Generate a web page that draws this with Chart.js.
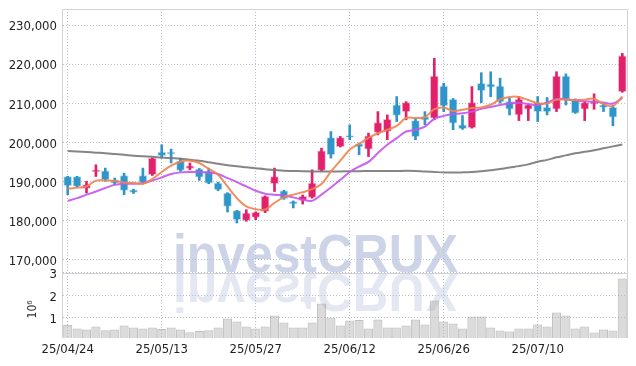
<!DOCTYPE html>
<html>
<head>
<meta charset="utf-8">
<script src="https://cdn.jsdelivr.net/npm/chart.js@4.4.1/dist/chart.umd.min.js"></script>
<style>
  html, body { margin: 0; padding: 0; background: #fff; }
  #chart { display: block; }
</style>
</head>
<body>
<canvas id="chart" width="636" height="366"></canvas>
<script>
// trading days shown on the x axis
const dates = [
  '25/04/24', '25/04/25', '25/04/28', '25/04/29', '25/04/30', '25/05/02', '25/05/07', '25/05/08', '25/05/09', '25/05/12',
  '25/05/13', '25/05/14', '25/05/15', '25/05/16', '25/05/19', '25/05/20', '25/05/21', '25/05/22', '25/05/23', '25/05/26',
  '25/05/27', '25/05/28', '25/05/29', '25/05/30', '25/06/02', '25/06/04', '25/06/05', '25/06/09', '25/06/10', '25/06/11',
  '25/06/12', '25/06/13', '25/06/16', '25/06/17', '25/06/18', '25/06/19', '25/06/20', '25/06/23', '25/06/24', '25/06/25',
  '25/06/26', '25/06/27', '25/06/30', '25/07/01', '25/07/02', '25/07/03', '25/07/04', '25/07/07', '25/07/08', '25/07/09',
  '25/07/10', '25/07/11', '25/07/14', '25/07/15', '25/07/16', '25/07/17', '25/07/18', '25/07/21', '25/07/22', '25/07/23'
];

const openPx = [
  191250, 191250, 188200, 192450, 192700, 190400, 191450, 187850, 191450, 191700,
  197500, 197400, 195250, 193300, 193150, 192600, 189550, 187000, 182500, 180000,
  180800, 182300, 189400, 187600, 184850, 185050, 185900, 192800, 201200, 198900,
  201700, 199600, 198250, 202500, 202750, 209550, 207850, 205550, 206600, 206150,
  214400, 211000, 204450, 203750, 215100, 214900, 214400, 210400, 207000, 208450,
  210150, 208950, 208450, 216950, 211000, 208450, 209800, 209550, 208950, 212950
];
const highPx = [
  191300, 191300, 190000, 194250, 193400, 190850, 192100, 188000, 193400, 196000,
  199350, 198250, 195950, 194700, 193300, 193400, 189800, 187100, 182600, 182750,
  182200, 186300, 193400, 187700, 185000, 186500, 192950, 198500, 202750, 201500,
  204450, 199800, 202350, 207850, 207000, 211700, 210400, 206150, 207850, 221500,
  215100, 211200, 206850, 214250, 217800, 218050, 216400, 211300, 211700, 209800,
  211700, 211450, 218050, 217500, 211100, 210300, 212400, 209900, 209500, 222750
];
const lowPx = [
  186600, 188500, 187000, 191250, 190000, 189150, 186600, 186900, 189300, 191500,
  195950, 194700, 192550, 192950, 190250, 189400, 187600, 182150, 179350, 179800,
  180200, 182000, 187400, 185400, 183200, 184200, 185700, 192550, 195950, 198800,
  200650, 196800, 196350, 201900, 200650, 205300, 205750, 200650, 204450, 205750,
  207850, 203200, 203300, 203600, 210150, 211650, 210000, 207000, 205550, 205550,
  205300, 207000, 207850, 209550, 207400, 205550, 208450, 207850, 204200, 212800
];
const closePx = [
  188900, 188700, 189150, 192950, 190400, 189550, 187700, 187150, 189700, 195950,
  196600, 197050, 192800, 194000, 191100, 189550, 187850, 183600, 180200, 181900,
  182050, 186150, 191250, 185550, 184200, 186150, 189550, 197800, 196800, 201200,
  201300, 198900, 201650, 205050, 205900, 206850, 210150, 201450, 205750, 216950,
  209300, 204900, 203500, 210150, 213200, 214100, 210400, 208450, 211000, 209550,
  207850, 207850, 216950, 211000, 207450, 210150, 210400, 208950, 206400, 222100
];

// moving average lines
const maShort = [
  188100, 188400, 188700, 190200, 190200, 190100, 189700, 189600, 189400, 190600,
  192400, 194000, 195000, 195300, 194700, 193200, 191700, 188700, 185700, 183600,
  182900, 182800, 184500, 185900, 186600, 187200, 188000, 189300, 192500, 195300,
  198100, 199600, 201100, 202300, 203200, 204200, 206200, 206200, 206400, 208500,
  208900, 208000, 208300, 208800, 208900, 209600, 211000, 211600, 211600, 210800,
  210000, 209950, 210900, 210900, 210800, 210900, 211150, 209800, 209250, 211700
];
const maMid = [
  185000, 185700, 186600, 187400, 188300, 189100, 189400, 189400, 189600, 190200,
  191000, 191900, 192300, 192400, 192400, 192250, 191900, 190850, 189800, 188700,
  187600, 186850, 186600, 186400, 185900, 185300, 185000, 186600, 188450, 190400,
  192400, 193800, 195000, 197250, 199350, 201050, 202750, 203200, 204000, 206000,
  206750, 207250, 207400, 207850, 208550, 209050, 209550, 209950, 210100, 209800,
  209550, 210200, 211100, 211000, 210700, 210500, 210400, 210150, 209900, 211300
];
const maLong = [
  197800, 197650, 197500, 197350, 197200, 197000, 196800, 196550, 196400, 196300,
  196100, 195950, 195800, 195500, 195250, 194900, 194500, 194150, 193850, 193600,
  193350, 193100, 192900, 192700, 192650, 192600, 192550, 192550, 192550, 192550,
  192600, 192600, 192650, 192650, 192650, 192650, 192700, 192650, 192500, 192400,
  192300, 192250, 192300, 192400, 192600, 192850, 193150, 193550, 193900, 194350,
  195000, 195500, 196150, 196650, 197200, 197550, 197950, 198450, 198950, 199450
];

// volume in millions of shares
const volumeM = [
  0.66, 0.51, 0.46, 0.60, 0.43, 0.46, 0.64, 0.55, 0.51, 0.55,
  0.48, 0.55, 0.46, 0.34, 0.39, 0.43, 0.55, 0.96, 0.82, 0.60,
  0.51, 0.60, 1.09, 0.78, 0.55, 0.55, 0.78, 1.63, 1.00, 0.64,
  0.87, 0.89, 0.51, 0.91, 0.55, 0.55, 0.64, 0.91, 0.69, 1.76,
  0.82, 0.73, 0.51, 1.04, 1.04, 0.55, 0.42, 0.37, 0.51, 0.51,
  0.69, 0.60, 1.22, 1.09, 0.51, 0.60, 0.33, 0.46, 0.42, 2.75
];

const priceTicks = [170000, 180000, 190000, 200000, 210000, 220000, 230000];
const volumeTicks = [1, 2, 3];
const volumeUnit = '10\u2076';

const upColor = '#e2216b';
const downColor = '#3096c9';
const gridColor = '#b9bdd0';
const frameColor = '#d2d2d6';
const fontFamily = "'DejaVu Sans Condensed', 'DejaVu Sans', sans-serif";
const tickFont = { family: fontFamily, size: 13 };

function candleColor(i, alpha) {
  const up = closePx[i] >= openPx[i];
  if (alpha === undefined) return up ? upColor : downColor;
  return up ? 'rgba(226,33,107,' + alpha + ')' : 'rgba(48,150,201,' + alpha + ')';
}

// fixed axis box, no extra label padding around the plot
function fitLeftAxis(s) {
  s.width = 63;
  s.paddingTop = 0;
  s.paddingBottom = 0;
}

// watermark with its mirrored reflection, drawn under the grid
const watermark = {
  id: 'watermark',
  beforeDraw(chart) {
    const ctx = chart.ctx;
    const text = 'investCRUX';
    ctx.save();
    ctx.font = "bold 53px 'Liberation Sans', sans-serif";
    const w = ctx.measureText(text).width;
    const sx = 285 / w;
    const x0 = 173, base = 272;
    ctx.textBaseline = 'alphabetic';
    ctx.fillStyle = '#cdd4e8';
    ctx.save();
    ctx.translate(x0, base);
    ctx.scale(sx, 1);
    ctx.fillText(text, 0, 0);
    ctx.restore();
    // reflection
    const g = ctx.createLinearGradient(0, base, 0, base + 42);
    g.addColorStop(0, 'rgba(205,212,232,0.55)');
    g.addColorStop(1, 'rgba(205,212,232,0.15)');
    ctx.fillStyle = g;
    ctx.save();
    ctx.translate(x0, base + 2);
    ctx.scale(sx, -1);
    ctx.fillText(text, 0, 0);
    ctx.restore();
    ctx.restore();
  }
};

// solid frame around the plot, the panel separator and the volume unit
const frame = {
  id: 'frame',
  beforeDatasetsDraw(chart) {
    const { ctx, chartArea } = chart;
    const yv = chart.scales.yv;
    const sep = Math.round(yv.top) + 0.5;
    ctx.save();
    ctx.strokeStyle = frameColor;
    ctx.lineWidth = 1;
    ctx.beginPath();
    ctx.moveTo(chartArea.left - 0.5, chartArea.bottom);
    ctx.lineTo(chartArea.left - 0.5, chartArea.top + 0.5);
    ctx.lineTo(chartArea.right + 0.5, chartArea.top + 0.5);
    ctx.lineTo(chartArea.right + 0.5, chartArea.bottom);
    ctx.moveTo(chartArea.left, sep);
    ctx.lineTo(chartArea.right, sep);
    ctx.stroke();

    ctx.translate(33, (yv.getPixelForValue(volumeTicks[0]) + yv.getPixelForValue(volumeTicks[1])) / 2 + 3);
    ctx.rotate(-Math.PI / 2);
    ctx.fillStyle = '#333';
    ctx.font = '12px ' + fontFamily;
    ctx.textAlign = 'center';
    ctx.textBaseline = 'middle';
    ctx.fillText(volumeUnit, 0, 0);
    ctx.restore();
  }
};

new Chart(document.getElementById('chart'), {
  data: {
    labels: dates,
    datasets: [
      {
        type: 'line', label: 'MA short', data: maShort, yAxisID: 'y', order: 0,
        borderColor: 'rgba(238,132,80,0.9)', borderWidth: 2, pointRadius: 0, tension: 0.35
      },
      {
        type: 'line', label: 'MA mid', data: maMid, yAxisID: 'y', order: 0,
        borderColor: 'rgba(196,84,238,0.9)', borderWidth: 2, pointRadius: 0, tension: 0.35
      },
      {
        type: 'line', label: 'MA long', data: maLong, yAxisID: 'y', order: 0,
        borderColor: 'rgba(120,120,120,0.9)', borderWidth: 2, pointRadius: 0, tension: 0.35
      },
      {
        type: 'bar', label: 'body', yAxisID: 'y', order: 1, grouped: false,
        data: openPx.map((o, i) => [o, closePx[i]]),
        backgroundColor: (c) => candleColor(c.dataIndex),
        borderColor: (c) => candleColor(c.dataIndex, 0.3),
        borderWidth: 1, borderSkipped: false, barThickness: 8
      },
      {
        type: 'bar', label: 'wick', yAxisID: 'y', order: 2, grouped: false,
        data: lowPx.map((l, i) => [l, highPx[i]]),
        backgroundColor: (c) => candleColor(c.dataIndex),
        barThickness: 2
      },
      {
        type: 'bar', label: 'volume', yAxisID: 'yv', order: 3, grouped: false,
        data: volumeM,
        backgroundColor: 'rgba(175,175,175,0.45)',
        borderColor: 'rgba(150,150,150,0.6)',
        borderWidth: 1, borderSkipped: false,
        barPercentage: 1, categoryPercentage: 0.97
      }
    ]
  },
  options: {
    responsive: false,
    animation: false,
    devicePixelRatio: 1,
    layout: { autoPadding: false, padding: { top: 9, right: 9, bottom: 0, left: 0 } },
    plugins: { legend: { display: false }, tooltip: { enabled: false } },
    scales: {
      x: {
        type: 'category',
        offset: true,
        grid: {
          offset: false, drawTicks: false, lineWidth: 1,
          color: (c) => (c.index % 10 === 0 ? gridColor : 'transparent')
        },
        border: { display: false, dash: [1, 2] },
        ticks: {
          autoSkip: false, maxRotation: 0, padding: 4, color: '#222', font: tickFont,
          callback: function (v, i) { return i % 10 === 0 ? this.getLabelForValue(v) : ''; }
        },
        afterFit: (s) => { s.height = 28; s.paddingLeft = 0; s.paddingRight = 0; }
      },
      y: {
        type: 'linear', position: 'left', stack: 'panels', stackWeight: 263.7, weight: 1,
        min: 166570, max: 234100,
        grid: { drawTicks: false, color: gridColor },
        border: { display: false, dash: [1, 2] },
        ticks: {
          autoSkip: false, padding: 6, labelOffset: 2, color: '#222', font: tickFont,
          callback: (v) => v.toLocaleString('en-US')
        },
        afterBuildTicks: (s) => { s.ticks = priceTicks.map((v) => ({ value: v })); },
        afterFit: fitLeftAxis
      },
      yv: {
        type: 'linear', position: 'left', stack: 'panels', stackWeight: 65, weight: 0,
        min: 0.08, max: 3,
        grid: { drawTicks: false, color: gridColor },
        border: { display: false, dash: [1, 2] },
        ticks: { autoSkip: false, padding: 6, labelOffset: 2, color: '#222', font: tickFont },
        afterBuildTicks: (s) => { s.ticks = volumeTicks.map((v) => ({ value: v })); },
        afterFit: fitLeftAxis
      }
    }
  },
  plugins: [watermark, frame]
});
</script>
</body>
</html>
